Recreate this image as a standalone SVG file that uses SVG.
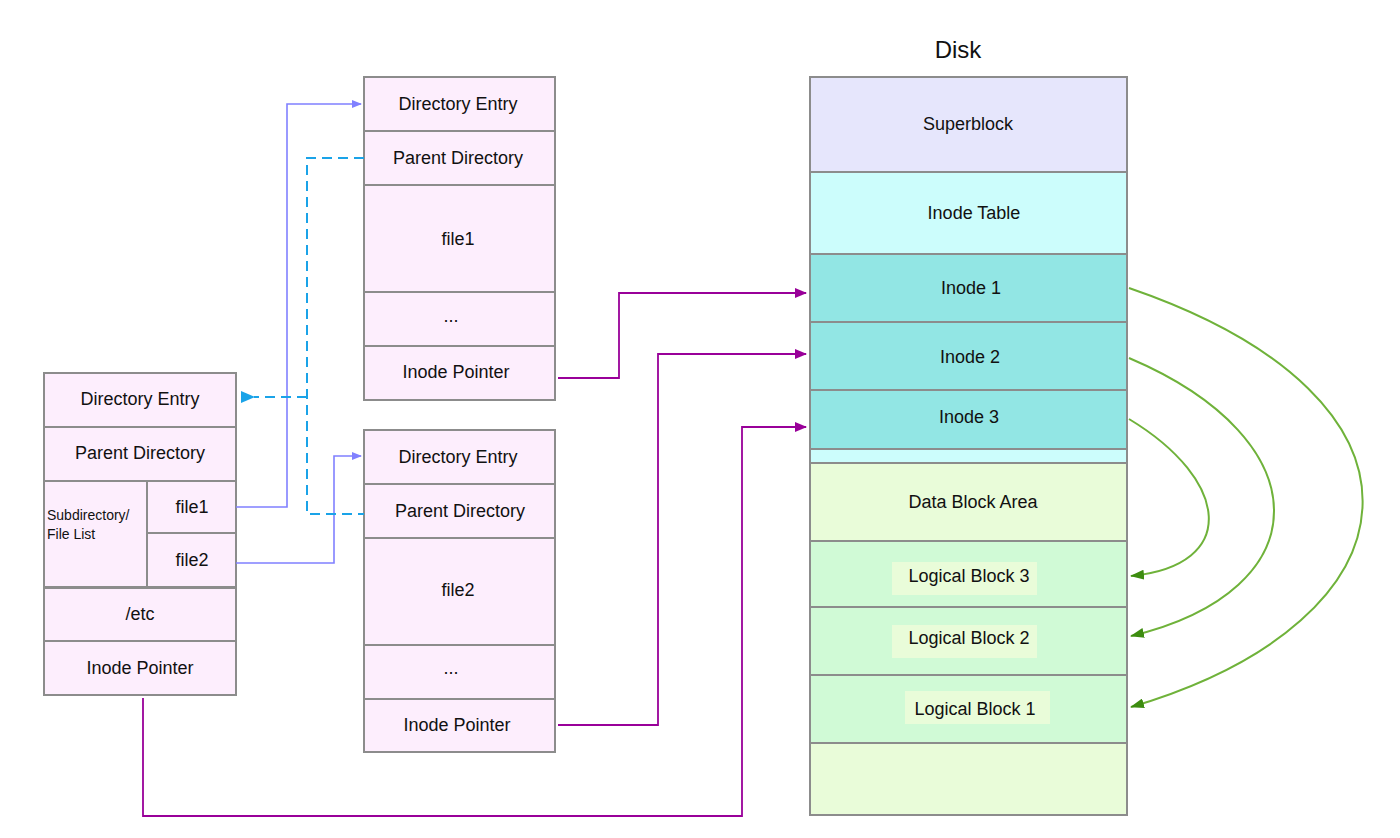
<svg xmlns="http://www.w3.org/2000/svg" width="1400" height="838" viewBox="0 0 1400 838">
<style>
text{font-family:"Liberation Sans",Arial,sans-serif;font-size:18px;fill:#111;text-anchor:middle;dominant-baseline:central}
.c{stroke:#8c8c8c;stroke-width:2}
.p{fill:#fdeefd}
.bl{fill:none;stroke:#8080ff;stroke-width:1.6}
.da{fill:none;stroke:#1aa3e8;stroke-width:2;stroke-dasharray:10,6}
.pu{fill:none;stroke:#990099;stroke-width:1.8}
.gr{fill:none;stroke:#6fb23a;stroke-width:2}
</style>
<defs>
<marker id="ab" markerWidth="10" markerHeight="8" refX="9" refY="4" orient="auto" markerUnits="userSpaceOnUse"><path d="M0,0L10,4L0,8z" fill="#8080ff"/></marker>
<marker id="ad" markerWidth="14" markerHeight="12" refX="1" refY="6" orient="auto" markerUnits="userSpaceOnUse"><path d="M14,0L0,6L14,12z" fill="#1aa3e8"/></marker>
<marker id="ap" markerWidth="12" markerHeight="10" refX="11" refY="5" orient="auto" markerUnits="userSpaceOnUse"><path d="M0,0L12,5L0,10z" fill="#990099"/></marker>
<marker id="ag" markerWidth="14" markerHeight="10" refX="13" refY="5" orient="auto" markerUnits="userSpaceOnUse"><path d="M0,0L14,5L0,10z" fill="#3d8c10"/></marker>
</defs>
<rect width="1400" height="838" fill="#fff"/>
<g id="left">
<rect class="c p" x="44" y="373" width="192" height="54"/><text x="140" y="399">Directory Entry</text>
<rect class="c p" x="44" y="427" width="192" height="54"/><text x="140" y="453">Parent Directory</text>
<rect class="c p" x="44" y="481" width="103" height="106"/>
<text x="47" y="515" style="text-anchor:start;font-size:14px">Subdirectory/</text>
<text x="47" y="534" style="text-anchor:start;font-size:14px">File List</text>
<rect class="c p" x="147" y="481" width="89" height="52"/><text x="192" y="507">file1</text>
<rect class="c p" x="147" y="533" width="89" height="54"/><text x="192" y="560">file2</text>
<rect class="c p" x="44" y="588" width="192" height="53"/><text x="140" y="614">/etc</text>
<rect class="c p" x="44" y="641" width="192" height="54"/><text x="140" y="668">Inode Pointer</text>
</g>
<g id="dir1">
<rect class="c p" x="364" y="77" width="191" height="54"/><text x="458" y="104">Directory Entry</text>
<rect class="c p" x="364" y="131" width="191" height="54"/><text x="458" y="158">Parent Directory</text>
<rect class="c p" x="364" y="185" width="191" height="107"/><text x="458" y="239">file1</text>
<rect class="c p" x="364" y="292" width="191" height="54"/><text x="451" y="316">...</text>
<rect class="c p" x="364" y="346" width="191" height="54"/><text x="456" y="372">Inode Pointer</text>
</g>
<g id="dir2">
<rect class="c p" x="364" y="430" width="191" height="54"/><text x="458" y="457">Directory Entry</text>
<rect class="c p" x="364" y="484" width="191" height="54"/><text x="460" y="511">Parent Directory</text>
<rect class="c p" x="364" y="538" width="191" height="107"/><text x="458" y="590">file2</text>
<rect class="c p" x="364" y="645" width="191" height="54"/><text x="451" y="668">...</text>
<rect class="c p" x="364" y="699" width="191" height="53"/><text x="457" y="725">Inode Pointer</text>
</g>
<g id="disk">
<text x="958" y="49" style="font-size:24px">Disk</text>
<rect class="c" fill="#e6e6fc" x="810" y="77" width="317" height="95"/><text x="968" y="124">Superblock</text>
<rect class="c" fill="#ccfdfc" x="810" y="172" width="317" height="291"/><text x="974" y="213">Inode Table</text>
<rect class="c" fill="#92e6e4" x="810" y="254" width="317" height="68"/><text x="971" y="288">Inode 1</text>
<rect class="c" fill="#92e6e4" x="810" y="322" width="317" height="68"/><text x="970" y="357">Inode 2</text>
<rect class="c" fill="#92e6e4" x="810" y="390" width="317" height="59"/><text x="969" y="417">Inode 3</text>
<rect class="c" fill="#e9fcd9" x="810" y="463" width="317" height="78"/><text x="973" y="502">Data Block Area</text>
<rect class="c" fill="#d0fad6" x="810" y="541" width="317" height="66"/>
<rect fill="#e9fcd9" x="892" y="562" width="145" height="33"/><text x="969" y="576">Logical Block 3</text>
<rect class="c" fill="#d0fad6" x="810" y="607" width="317" height="68"/>
<rect fill="#e9fcd9" x="892" y="625" width="145" height="33"/><text x="969" y="638">Logical Block 2</text>
<rect class="c" fill="#d0fad6" x="810" y="675" width="317" height="68"/>
<rect fill="#e9fcd9" x="905" y="691" width="145" height="33"/><text x="975" y="709">Logical Block 1</text>
<rect class="c" fill="#e9fcd9" x="810" y="743" width="317" height="72"/>
</g>
<g id="connectors">
<path class="bl" d="M236,507H287V104H361" marker-end="url(#ab)"/>
<path class="bl" d="M236,563H334V456H361" marker-end="url(#ab)"/>
<path class="da" d="M364,158H307V514H364"/>
<path class="da" d="M307,397H254" marker-end="url(#ad)"/>
<path class="pu" d="M558,378H619V293H806" marker-end="url(#ap)"/>
<path class="pu" d="M558,725H658V354H806" marker-end="url(#ap)"/>
<path class="pu" d="M143,698V816H742V427H806" marker-end="url(#ap)"/>
<path class="gr" d="M1129,288C1455,400 1425,620 1131,707" marker-end="url(#ag)"/>
<path class="gr" d="M1129,358C1322,440 1322,590 1131,636" marker-end="url(#ag)"/>
<path class="gr" d="M1129,419C1230,480 1240,565 1131,576" marker-end="url(#ag)"/>
</g>
</svg>
